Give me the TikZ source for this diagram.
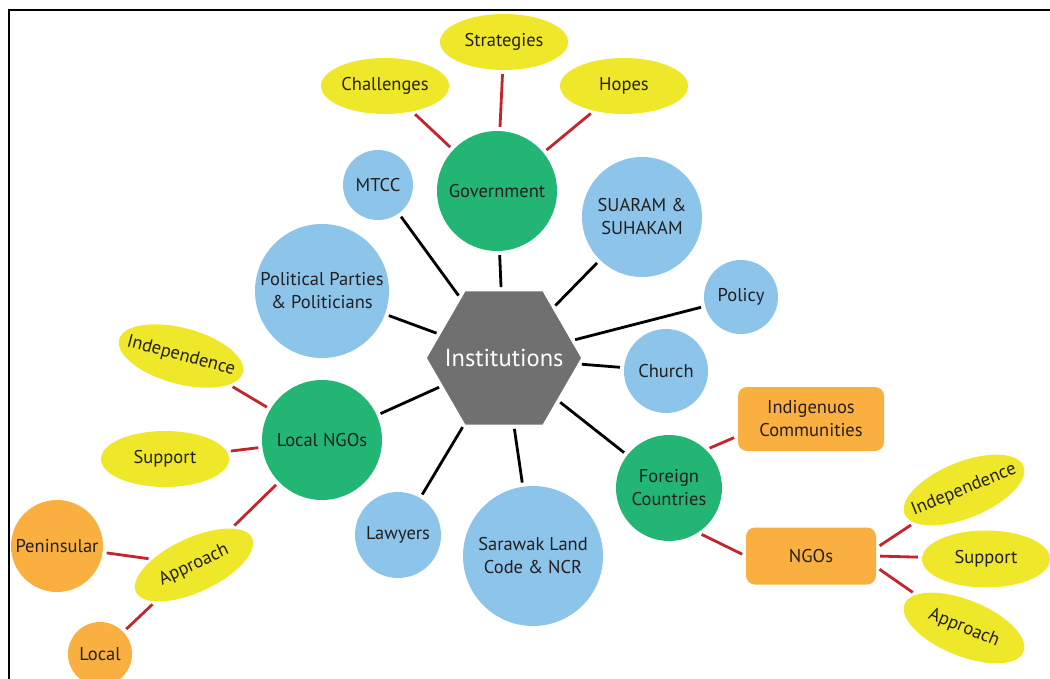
\documentclass[tikz,border=0pt]{standalone}
\usepackage{fontspec}
\setmainfont{PT Sans}
\usetikzlibrary{shapes.geometric}
\definecolor{leafyellow}{HTML}{EFE82A}
\definecolor{hubgreen}{HTML}{22B573}
\definecolor{topicblue}{HTML}{8CC4EA}
\definecolor{subnodeorange}{HTML}{FAB041}
\definecolor{linkred}{HTML}{C4242B}
\definecolor{hexgray}{HTML}{707070}
\definecolor{labeltext}{HTML}{231F20}
\begin{document}
\begin{tikzpicture}[x=1pt,y=-1pt,
  every node/.style={font=\fontsize{18.5}{23}\selectfont, text=labeltext, align=center, inner sep=0pt},
  bubble/.style={circle, fill=topicblue, minimum size=#1},
  hubnode/.style={circle, fill=hubgreen, minimum size=#1},
  orb/.style={circle, fill=subnodeorange, minimum size=#1},
  leaf/.style={ellipse, fill=leafyellow, minimum width=128pt, minimum height=56pt, inner xsep=-14pt},
  tag/.style={rectangle, rounded corners=9pt, fill=subnodeorange},
  spoke/.style={draw=black, line width=2.8pt, shorten <=4pt, shorten >=4pt},
  twig/.style={draw=linkred, line width=2.8pt, shorten <=4pt, shorten >=4pt},
]
\useasboundingbox (0,0) rectangle (1050,679);
% outer frame (top and left edges)
\draw[line width=2pt] (9,679) -- (9,10) -- (1050,10);

% centre hexagon: the label is boxed at zero width so the size comes from minimum size
\node[regular polygon, regular polygon sides=6, minimum size=154pt, fill=hexgray,
      text=white, font=\fontsize{24.5}{28}\selectfont] (hub) at (504,358) {\makebox[0pt]{Institutions}};

% first ring
\node[hubnode=120pt] (gov) at (497,191) {Government};
\node[bubble=70pt] (mtcc) at (378,185) {MTCC};
\node[bubble=120pt] (suaram) at (642,217) {SUARAM \&\\SUHAKAM};
\node[bubble=74pt] (policy) at (741,297) {Policy};
\node[bubble=84pt] (church) at (666,371) {Church};
\node[bubble=134pt] (parties) at (322,291) {Political Parties\\\& Politicians};
\node[hubnode=120pt] (lngo) at (322,440) {Local NGOs};
\node[bubble=86pt] (lawyers) at (398,535) {Lawyers};
\node[bubble=140pt] (sarawak) at (533,556) {Sarawak Land\\Code \& NCR};
\node[hubnode=106pt] (fc) at (669,488) {Foreign\\Countries};

% government branch
\node[leaf] (chal) at (385,86) {Challenges};
\node[leaf] (strat) at (504,42) {Strategies};
\node[leaf] (hopes) at (624,86) {Hopes};

% local NGOs branch
\node[leaf, rotate=-15] (indL) at (181,356) {Independence};
\node[leaf] (supL) at (165,459) {Support};
\node[leaf, rotate=25, minimum height=54pt] (appL) at (194,565) {Approach};
\node[orb=92pt] (pen) at (57,546) {Peninsular};
\node[orb=64pt] (loc) at (100,654) {Local};

% foreign countries branch
\node[tag, minimum width=146pt, minimum height=64pt] (indig) at (811,419) {Indigenuos\\Communities};
\node[tag, minimum width=130pt, minimum height=57pt] (ngo) at (811,556) {NGOs};
\node[leaf, rotate=22] (indR) at (964,490) {Independence};
\node[leaf, minimum height=57pt] (supR) at (986,559) {Support};
\node[leaf, rotate=-22] (appR) at (964,628) {Approach};

% spokes from the centre
\draw[spoke] (hub) -- (gov);
\draw[spoke] (hub) -- (mtcc);
\draw[spoke] (hub) -- (suaram);
\draw[spoke] (hub) -- (policy);
\draw[spoke] (hub) -- (church);
\draw[spoke] (hub) -- (parties);
\draw[spoke] (hub) -- (lngo);
\draw[spoke] (hub) -- (lawyers);
\draw[spoke] (hub) -- (sarawak);
\draw[spoke] (hub) -- (fc);

% secondary links
\draw[twig] (gov) -- (chal);
\draw[twig] (gov) -- (strat);
\draw[twig] (gov) -- (hopes);
\draw[twig] (lngo) -- (indL);
\draw[twig] (lngo) -- (supL);
\draw[twig] (lngo) -- (appL);
\draw[twig] (appL) -- (pen);
\draw[twig] (appL) -- (loc);
\draw[twig] (fc.46) -- ([yshift=-17pt]indig.west);
\draw[twig] (fc.-57) -- (ngo.west);
\draw[twig] ([yshift=8pt]ngo.east) -- (indR);
\draw[twig] (ngo.east) -- (supR);
\draw[twig] ([yshift=-11pt]ngo.east) -- (appR);
\end{tikzpicture}
\end{document}
